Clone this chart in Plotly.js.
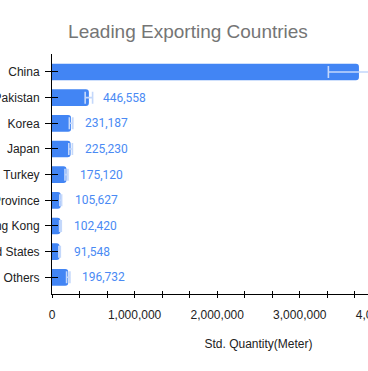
<!DOCTYPE html>
<html>
<head>
<meta charset="utf-8">
<script src="https://cdn.plot.ly/plotly-3.0.1.min.js"></script>
<style>
  html, body { margin: 0; padding: 0; overflow: hidden; background: #fff; }
  #chart { width: 480px; height: 371px; }
</style>
</head>
<body>
<div id="chart"></div>
<script>
// Data
const countries = ["China", "Pakistan", "Korea", "Japan", "Turkey", "Taiwan Province", "Hong Kong", "United States", "Others"];
const quantities = [3716000, 446558, 231187, 225230, 175120, 105627, 102420, 91548, 196732];
const errors = [370000, 45000, 21000, 22000, 18000, 11000, 10000, 9000, 20000];
const valueLabels = ["3,716,000", "446,558", "231,187", "225,230", "175,120", "105,627", "102,420", "91,548", "196,732"];
const xTickVals = [0, 1000000, 2000000, 3000000, 4000000, 5000000];
const xTickText = ["0", "1,000,000", "2,000,000", "3,000,000", "4,000,000", "5,000,000"];

const barColor = "#4285F4";

const trace = {
  type: "bar",
  orientation: "h",
  x: quantities,
  y: countries,
  marker: { color: barColor },
  error_x: { type: "data", array: errors, visible: true, color: "#c4d8fb", thickness: 1.6, width: 6 },
  hoverinfo: "x+y"
};

const annotations = countries.map((c, i) => ({
  x: quantities[i], y: c, xref: "x", yref: "y",
  text: valueLabels[i], showarrow: false, xanchor: "left", yanchor: "middle",
  xshift: 12, font: { family: "Roboto, Arial, sans-serif", size: 12, color: "#4a8af4" }
}));

const layout = {
  width: 480, height: 371,
  margin: { l: 52, r: 15, t: 54, b: 77 },
  paper_bgcolor: "#fff", plot_bgcolor: "#fff",
  showlegend: false,
  bargap: 0.35,
  barcornerradius: 3,
  title: {
    text: "Leading Exporting Countries",
    x: 188 / 480, xanchor: "center", xref: "container",
    y: 1 - 31 / 371, yanchor: "middle", yref: "container",
    font: { family: "Liberation Sans, Arial, sans-serif", size: 19, color: "#757575" }
  },
  font: { family: "Liberation Sans, Arial, sans-serif", size: 12, color: "#222" },
  xaxis: {
    range: [0, 5000000], fixedrange: true,
    tickmode: "array", tickvals: xTickVals, ticktext: xTickText,
    ticks: "outside", ticklen: 3, tickcolor: "#000", tickwidth: 1,
    minor: { dtick: 1000000 / 3, ticks: "outside", ticklen: 3, tickcolor: "#000", tickwidth: 1, showgrid: false },
    showline: true, linecolor: "#000", linewidth: 1,
    showgrid: false, zeroline: false, automargin: false,
    ticklabelstandoff: 7,
    tickfont: { family: "Liberation Sans, Arial, sans-serif", size: 12, color: "#222" },
    title: { text: "Std. Quantity(Meter)", standoff: 18, font: { family: "Liberation Sans, Arial, sans-serif", size: 12, color: "#222" } }
  },
  yaxis: {
    type: "category", categoryorder: "array", categoryarray: countries,
    range: [8.65, -0.7], fixedrange: true,
    ticks: "outside", ticklen: 6, tickcolor: "#000", tickwidth: 1,
    showline: true, linecolor: "#000", linewidth: 1,
    showgrid: false, zeroline: false, automargin: false,
    ticklabelstandoff: 3,
    tickfont: { family: "Liberation Sans, Arial, sans-serif", size: 12, color: "#222" }
  },
  xaxis2: {
    overlaying: "x", anchor: "y", side: "bottom", range: [0, 5000000], fixedrange: true,
    tickmode: "array", tickvals: xTickVals, showticklabels: false,
    ticks: "inside", ticklen: 3, tickcolor: "#000", tickwidth: 1,
    minor: { dtick: 1000000 / 3, ticks: "inside", ticklen: 3, tickcolor: "#000", tickwidth: 1, showgrid: false },
    showline: false, showgrid: false, zeroline: false
  },
  yaxis2: {
    overlaying: "y", anchor: "x", side: "left", range: [8.65, -0.7], fixedrange: true,
    tickmode: "array", tickvals: [0, 1, 2, 3, 4, 5, 6, 7, 8], showticklabels: false,
    ticks: "inside", ticklen: 6, tickcolor: "#000", tickwidth: 1,
    showline: false, showgrid: false, zeroline: false
  },
  annotations: annotations
};

const tickHelper = { type: "scatter", mode: "markers", x: [0], y: [0], xaxis: "x2", yaxis: "y2", marker: { opacity: 0 }, hoverinfo: "skip", showlegend: false };

Plotly.newPlot("chart", [trace, tickHelper], layout, { displayModeBar: false, staticPlot: true });
</script>
</body>
</html>
